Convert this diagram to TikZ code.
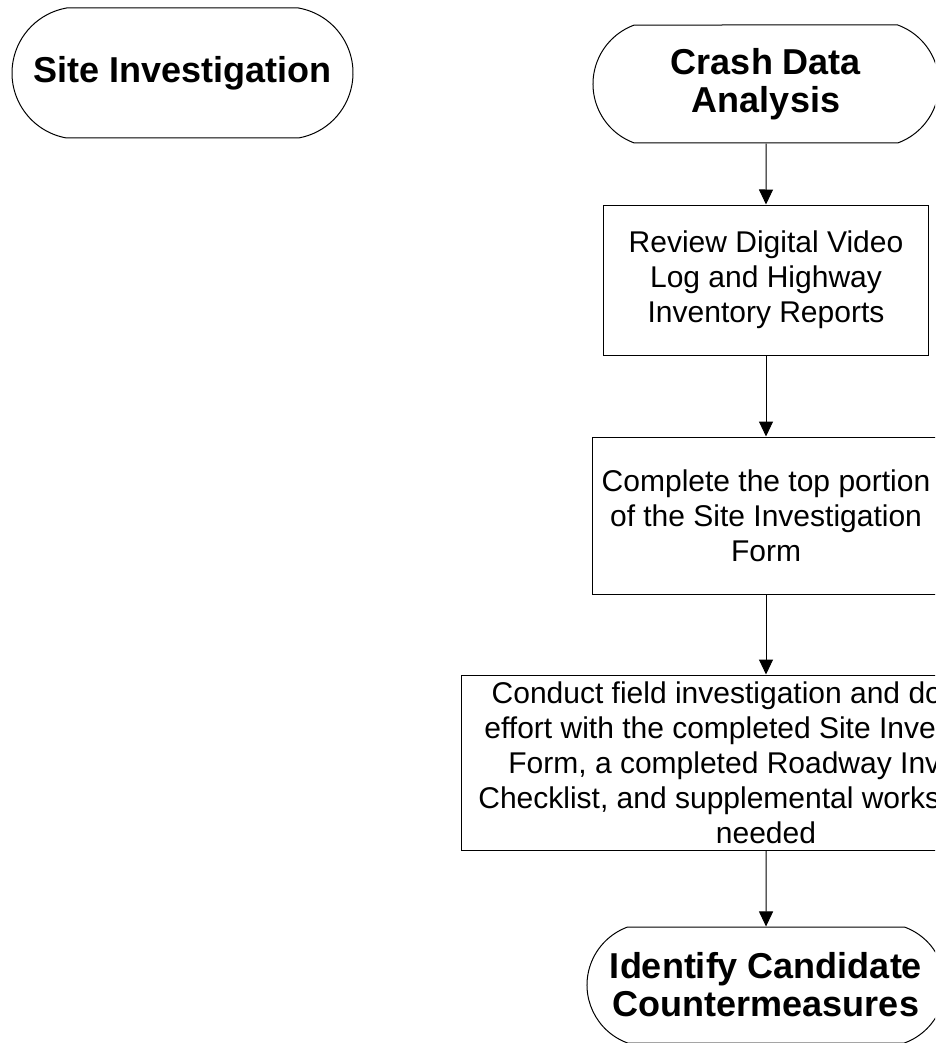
\documentclass[tikz,border=0pt]{standalone}
\usepackage{fontspec}
\setmainfont{Liberation Sans}
\usepackage{tikz}
\usetikzlibrary{shapes.misc,arrows.meta}

\begin{document}
\begin{tikzpicture}[x=1pt, y=-1pt]
	\tikzstyle{terminal_box} = [rounded rectangle, draw=black, line width=1pt, align=center, inner sep=0pt, font=\fontsize{36}{38}\selectfont\bfseries]
	\tikzstyle{process_box} = [rectangle, draw=black, line width=1pt, align=center, inner sep=0pt, font=\fontsize{30}{35}\selectfont]
	\tikzstyle{flow_arrow} = [draw=black, line width=1pt, -{Triangle[length=15pt, width=14pt]}]

	\useasboundingbox (0,0) rectangle (935,1043);
	\clip (0,0) rectangle (935,1043);

%------------------------------------------------------------
	\node[terminal_box, rounded rectangle arc length=160, minimum width=341, minimum height=130] (site) at (182.5,73) {Site Investigation};

%------------------------------------------------------------

	\node[terminal_box, rounded rectangle arc length=140, minimum width=346, minimum height=118] (crash) at (766,84) {Crash Data\\Analysis};
	\node[process_box, minimum width=325, minimum height=150] (review) at (766,280) {Review Digital Video\\Log and Highway\\Inventory Reports};
	\node[process_box, minimum width=348, minimum height=157] (form) at (766,515.5) {Complete the top portion\\of the Site Investigation\\Form};
	\node[process_box, minimum width=610, minimum height=175] (field) at (766,762.5) {Conduct field investigation and document\\effort with the completed Site Investigation\\Form, a completed Roadway Inventory\\Checklist, and supplemental worksheets as\\needed};
	\node[terminal_box, rounded rectangle arc length=140, minimum width=358, minimum height=116] (identify) at (766,985) {Identify Candidate\\Countermeasures};

%------------------------------------------------------------

	\draw[flow_arrow] (crash) -- (review);
	\draw[flow_arrow] (review) -- (form);
	\draw[flow_arrow] (form) -- (field);
	\draw[flow_arrow] (field) -- (identify);

\end{tikzpicture}
\end{document}
